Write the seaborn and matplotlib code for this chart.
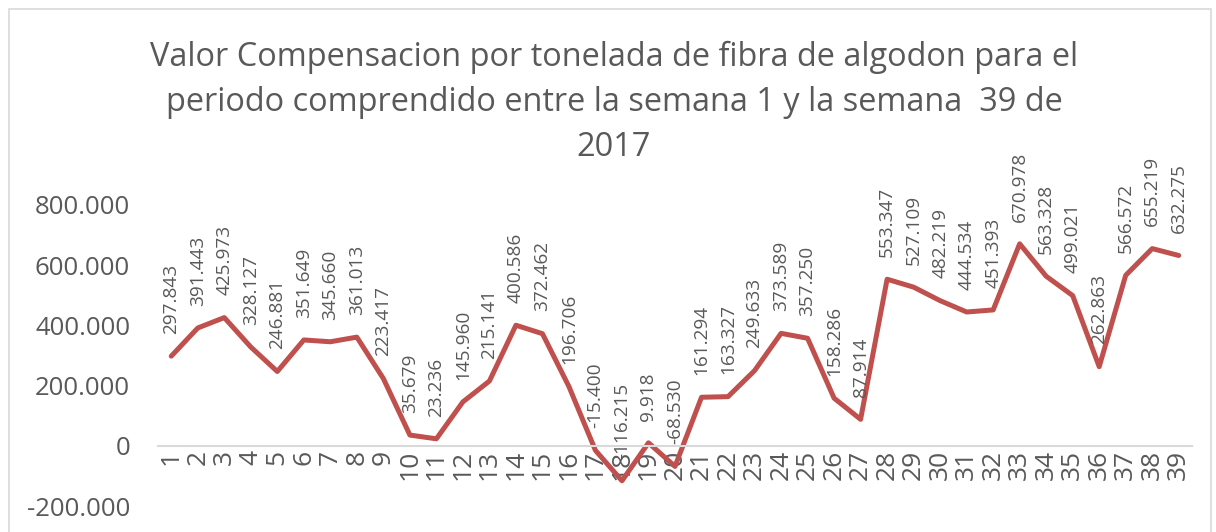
import pandas as pd
import matplotlib.pyplot as plt
import seaborn as sns
from matplotlib.patches import Rectangle

semanas = list(range(1, 40))
valores = [297843, 391443, 425973, 328127, 246881, 351649, 345660, 361013, 223417, 35679,
           23236, 145960, 215141, 400586, 372462, 196706, -15400, -116215, 9918, -68530,
           161294, 163327, 249633, 373589, 357250, 158286, 87914, 553347, 527109, 482219,
           444534, 451393, 670978, 563328, 499021, 262863, 566572, 655219, 632275]
yticks = [-200000, 0, 200000, 400000, 600000, 800000]

titulo = ['Valor Compensacion por tonelada de fibra de algodon para el',
          'periodo comprendido entre la semana 1 y la semana  39 de',
          '2017']

df = pd.DataFrame({'semana': semanas, 'valor': valores})


def miles(v):
    # formato con punto como separador de miles
    return f'{v:,}'.replace(',', '.')


sns.set_style('white')
plt.rcParams['font.family'] = ['Open Sans', 'DejaVu Sans']
gris = '#595959'
rojo = '#C0504D'

fig = plt.figure(figsize=(12.16, 5.32), dpi=100)
ax = fig.add_axes([158 / 1216, 1 - 506 / 532, (1192 - 158) / 1216, (506 - 205) / 532])

sns.lineplot(data=df, x='semana', y='valor', color=rojo, linewidth=3.6, ax=ax)

for x, v in zip(semanas, valores):
    ax.annotate(miles(v), (x, v), xytext=(0, 16), textcoords='offset points',
                rotation=90, ha='center', va='bottom', fontsize=13.7, color=gris)

ax.set_xlim(0.5, 39.5)
ax.set_ylim(-200000, 800000)
ax.set_xticks(semanas)
ax.set_xticklabels([str(s) for s in semanas])
ax.set_yticks(yticks)
ax.set_yticklabels([miles(t) if t != 0 else '0' for t in yticks])
ax.tick_params(axis='x', length=0, pad=3, labelrotation=90, labelsize=19, labelcolor=gris)
ax.tick_params(axis='y', length=0, pad=20, labelsize=18.5, labelcolor=gris)
ax.set_xlabel('')
ax.set_ylabel('')

for s in ['top', 'right', 'left']:
    ax.spines[s].set_visible(False)
ax.spines['bottom'].set_position(('data', 0))
ax.spines['bottom'].set_color('#D9D9D9')
ax.spines['bottom'].set_linewidth(1.5)

# titulo en tres lineas separadas
for i, linea in enumerate(titulo):
    fig.text(614 / 1216, 1 - (57 + 45.5 * i) / 532, linea, ha='center', va='center',
             fontsize=23.4, color=gris)

fig.patches.append(Rectangle((9 / 1216, -0.01), 1 - 14 / 1216, 1 - 9 / 532 + 0.01,
                             transform=fig.transFigure, fill=False,
                             edgecolor='#D9D9D9', linewidth=1.2))

fig.savefig('out.png', dpi=100)
